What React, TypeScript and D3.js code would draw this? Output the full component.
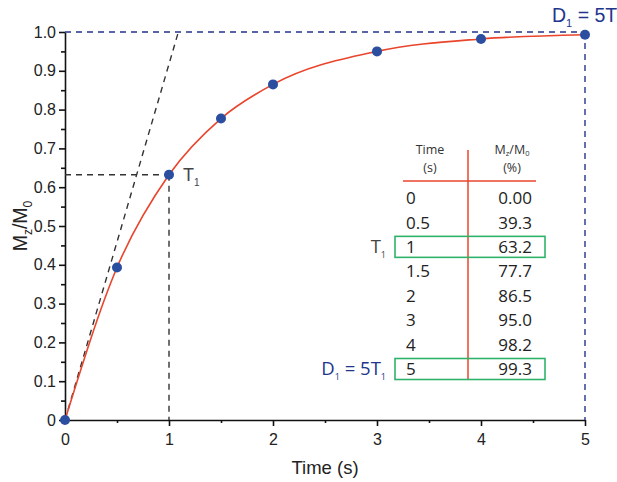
import React, { useEffect, useRef } from 'react';
import * as d3 from 'd3';

// measured points of Mz/M0 versus time
const times = [0, 0.5, 1, 1.5, 2, 3, 4, 5];
const ratios = [0, 0.393, 0.632, 0.777, 0.865, 0.95, 0.982, 0.993];

// table text
const timeLabels = ['0', '0.5', '1', '1.5', '2', '3', '4', '5'];
const pctLabels = ['0.00', '39.3', '63.2', '77.7', '86.5', '95.0', '98.2', '99.3'];
const boxedRows = [2, 7];

const xTicks = [0, 1, 2, 3, 4, 5];
const yTicks = [0, 0.1, 0.2, 0.3, 0.4, 0.5, 0.6, 0.7, 0.8, 0.9, 1.0];

const T1 = 1;
const T1Value = 0.632;
const tangentEnd = { x: 1.09, y: 1.0 };

const RED = '#e9452c';
const BLUE_PT = '#2b4ea0';
const NAVY = '#22358c';
const AXIS_FONT = '"Liberation Sans", Arial, sans-serif';
const TABLE_FONT = '"Open Sans", "Noto Sans", sans-serif';

const App = () => {
  const svgRef = useRef(null);

  useEffect(() => {
    const svg = d3.select(svgRef.current);
    svg.selectAll('*').remove();

    const x = d3.scaleLinear().domain([0, 5]).range([65, 585]);
    const y = d3.scaleLinear().domain([0, 1]).range([420, 32]);

    // axes
    const xAxis = svg.append('g')
      .attr('transform', `translate(0,${y(0)})`)
      .call(d3.axisBottom(x).tickValues(xTicks).tickSize(6).tickSizeOuter(0).tickFormat(d3.format('d')));
    xAxis.selectAll('.tick').filter((d) => d === 0).select('line').remove();
    svg.append('g')
      .attr('transform', `translate(0,${y(0)})`)
      .call(d3.axisBottom(x).tickValues([0.5, 1.5, 2.5, 3.5, 4.5]).tickSize(3).tickFormat(() => ''))
      .select('.domain').remove();

    const yAxis = svg.append('g')
      .attr('transform', `translate(${x(0)},0)`)
      .call(d3.axisLeft(y).tickValues(yTicks).tickSize(6).tickSizeOuter(0)
        .tickFormat((d) => (d === 0 ? '0' : d3.format('.1f')(d))));
    svg.append('g')
      .attr('transform', `translate(${x(0)},0)`)
      .call(d3.axisLeft(y).tickValues(d3.range(0.05, 1, 0.1)).tickSize(4).tickFormat(() => ''))
      .select('.domain').remove();

    svg.selectAll('.domain, .tick line').attr('stroke', '#111').attr('stroke-width', 1.6);
    xAxis.selectAll('text').attr('font-family', AXIS_FONT).attr('font-size', 16).attr('fill', '#222').attr('dy', '1.0em');
    yAxis.selectAll('text').attr('font-family', AXIS_FONT).attr('font-size', 16).attr('fill', '#222').attr('x', -9);

    // axis titles
    svg.append('text')
      .attr('x', 325).attr('y', 474)
      .attr('text-anchor', 'middle')
      .attr('font-family', AXIS_FONT).attr('font-size', 18.5).attr('fill', '#222')
      .text('Time (s)');

    const yl = svg.append('text')
      .attr('transform', `translate(27,226) rotate(-90)`)
      .attr('text-anchor', 'middle')
      .attr('font-family', AXIS_FONT).attr('font-size', 19.5).attr('fill', '#222');
    yl.append('tspan').text('M');
    yl.append('tspan').attr('font-size', 12).attr('dy', 5).text('z');
    yl.append('tspan').attr('dy', -5).text('/M');
    yl.append('tspan').attr('font-size', 12).attr('dy', 5).text('0');

    // guide lines
    svg.append('line')
      .attr('x1', x(0)).attr('y1', y(1)).attr('x2', x(5)).attr('y2', y(1))
      .attr('stroke', NAVY).attr('stroke-width', 1.4).attr('stroke-dasharray', '6,5');
    svg.append('line')
      .attr('x1', x(5)).attr('y1', y(1)).attr('x2', x(5)).attr('y2', y(0))
      .attr('stroke', NAVY).attr('stroke-width', 1.4).attr('stroke-dasharray', '6,5');

    const gray = { stroke: '#333', width: 1.4, dash: '6,5' };
    [
      [0, 0, tangentEnd.x, tangentEnd.y],
      [0, T1Value, T1, T1Value],
      [T1, T1Value, T1, 0],
    ].forEach(([a, b, c, d]) => {
      svg.append('line')
        .attr('x1', x(a)).attr('y1', y(b)).attr('x2', x(c)).attr('y2', y(d))
        .attr('stroke', gray.stroke).attr('stroke-width', gray.width).attr('stroke-dasharray', gray.dash);
    });

    // fitted curve + points
    const pts = times.map((t, i) => ({ t, v: ratios[i] }));
    const line = d3.line()
      .x((d) => x(d.t))
      .y((d) => y(d.v))
      .curve(d3.curveMonotoneX);
    svg.append('path')
      .datum(pts)
      .attr('fill', 'none')
      .attr('stroke', RED)
      .attr('stroke-width', 1.6)
      .attr('d', line);

    svg.append('g')
      .selectAll('circle')
      .data(pts)
      .join('circle')
      .attr('cx', (d) => x(d.t))
      .attr('cy', (d) => y(d.v))
      .attr('r', 5)
      .attr('fill', BLUE_PT);

    // T1 label near the point
    const t1 = svg.append('text')
      .attr('x', x(T1) + 14).attr('y', y(T1Value) + 6)
      .attr('font-family', AXIS_FONT).attr('font-size', 18).attr('fill', '#444');
    t1.append('tspan').text('T');
    t1.append('tspan').attr('font-size', 10).attr('dy', 5).text('1');

    // top right label (runs off the edge)
    const d1 = svg.append('text')
      .attr('x', 552).attr('y', 22)
      .attr('font-family', AXIS_FONT).attr('font-size', 19.5).attr('fill', NAVY);
    d1.append('tspan').text('D');
    d1.append('tspan').attr('font-size', 11).attr('dy', 5).text('1');
    d1.append('tspan').attr('dy', -5).text(' = 5T');
    d1.append('tspan').attr('font-size', 11).attr('dy', 5).text('1');

    // table
    const row = d3.scaleLinear().domain([0, timeLabels.length - 1]).range([198, 369]);
    const colL = 406;
    const colR = 532;
    const divX = 468;
    const tbl = svg.append('g').attr('font-family', TABLE_FONT);

    const hdr = tbl.append('g').attr('font-size', 12.5).attr('fill', '#333').attr('text-anchor', 'middle');
    hdr.append('text').attr('x', 430).attr('y', 154).text('Time');
    hdr.append('text').attr('x', 430).attr('y', 172).text('(s)');
    const mz = hdr.append('text').attr('x', 512).attr('y', 154);
    mz.append('tspan').text('M');
    mz.append('tspan').attr('font-size', 7.5).attr('dy', 2).text('z');
    mz.append('tspan').attr('dy', -2).text('/M');
    mz.append('tspan').attr('font-size', 7.5).attr('dy', 2).text('0');
    hdr.append('text').attr('x', 512).attr('y', 172).text('(%)');

    tbl.append('line')
      .attr('x1', 403).attr('x2', 536).attr('y1', 181).attr('y2', 181)
      .attr('stroke', RED).attr('stroke-width', 1.5);
    tbl.append('line')
      .attr('x1', divX).attr('x2', divX).attr('y1', 150).attr('y2', 380)
      .attr('stroke', RED).attr('stroke-width', 1.5);

    boxedRows.forEach((i) => {
      tbl.append('rect')
        .attr('x', 395).attr('y', row(i) - 10.5)
        .attr('width', 150).attr('height', 21)
        .attr('fill', 'none').attr('stroke', '#2fb36a').attr('stroke-width', 1.6);
    });

    tbl.selectAll('text.tl')
      .data(timeLabels)
      .join('text')
      .attr('class', 'tl')
      .attr('x', colL).attr('y', (d, i) => row(i))
      .attr('dy', '0.36em')
      .attr('font-size', 17).attr('fill', '#222')
      .text((d) => d);
    tbl.selectAll('text.pl')
      .data(pctLabels)
      .join('text')
      .attr('class', 'pl')
      .attr('x', colR).attr('y', (d, i) => row(i))
      .attr('dy', '0.36em')
      .attr('text-anchor', 'end')
      .attr('font-size', 17).attr('fill', '#222')
      .text((d) => d);

    // side labels of the boxed rows
    const st = tbl.append('text')
      .attr('x', 386).attr('y', row(2) + 6)
      .attr('text-anchor', 'end')
      .attr('font-family', TABLE_FONT).attr('font-size', 18.5).attr('fill', '#444');
    st.append('tspan').text('T');
    st.append('tspan').attr('font-size', 9).attr('dy', 5).text('1');

    const sd = tbl.append('text')
      .attr('x', 386).attr('y', row(7) + 6)
      .attr('text-anchor', 'end')
      .attr('font-family', TABLE_FONT).attr('font-size', 18.5).attr('fill', NAVY);
    sd.append('tspan').text('D');
    sd.append('tspan').attr('font-size', 9).attr('dy', 5).text('1');
    sd.append('tspan').attr('dy', -5).text(' = 5T');
    sd.append('tspan').attr('font-size', 9).attr('dy', 5).text('1');
  }, []);

  return (
    <svg
      ref={svgRef}
      width={617}
      height={482}
      style={{ position: 'absolute', left: 0, top: 0, background: '#fff' }}
    ></svg>
  );
};

export default App;
